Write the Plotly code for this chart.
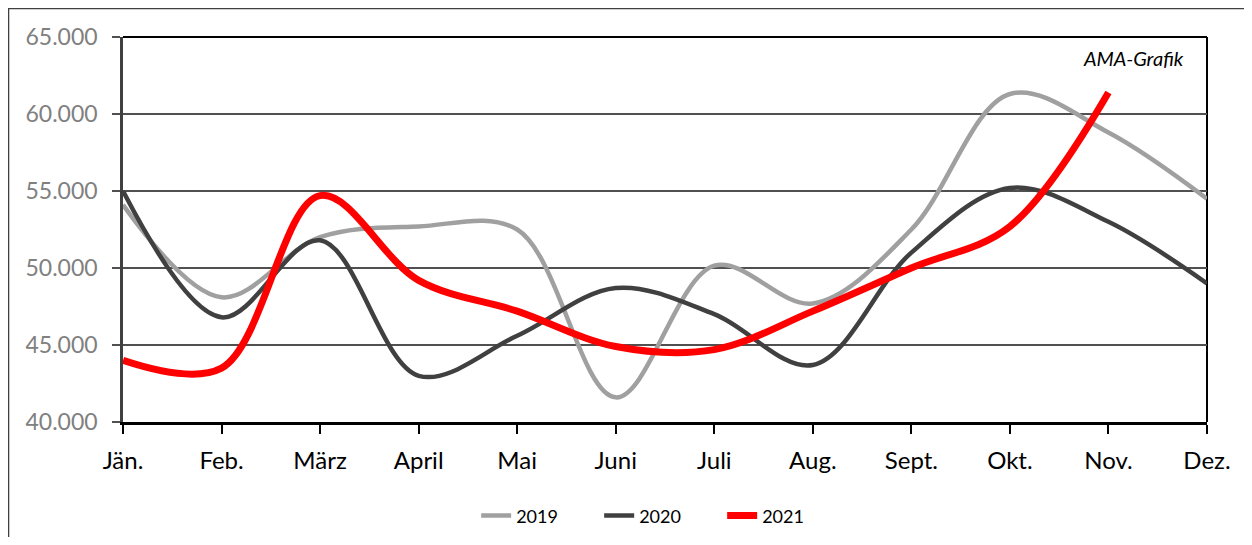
import plotly.graph_objects as go

months = ["Jän.", "Feb.", "März", "April", "Mai", "Juni", "Juli", "Aug.", "Sept.", "Okt.", "Nov.", "Dez."]
y2019 = [54100, 48100, 52000, 52700, 52500, 41600, 50150, 47700, 52500, 61300, 58800, 54500]
y2020 = [55000, 46800, 51800, 43000, 45600, 48700, 47000, 43700, 51000, 55200, 53000, 49000]
y2021 = [44000, 43500, 54700, 49200, 47200, 44900, 44700, 47200, 50000, 52700, 61400]
yticks = [40000, 45000, 50000, 55000, 60000, 65000]

xs = list(range(len(months)))

fig = go.Figure()
fig.add_trace(go.Scatter(x=xs[:len(y2019)], y=y2019, name="2019", mode="lines",
                         line=dict(color="#a0a0a0", width=4.5, shape="spline", smoothing=1.0)))
fig.add_trace(go.Scatter(x=xs[:len(y2020)], y=y2020, name="2020", mode="lines",
                         line=dict(color="#404040", width=4.5, shape="spline", smoothing=1.0)))
fig.add_trace(go.Scatter(x=xs[:len(y2021)], y=y2021, name="2021", mode="lines",
                         line=dict(color="#ff0000", width=7, shape="spline", smoothing=1.0)))

fig.update_layout(
    width=1236, height=529,
    margin=dict(l=115, r=37, t=29, b=115),
    paper_bgcolor="white", plot_bgcolor="white",
    separators=",.",
    font=dict(family="Lato, Open Sans, sans-serif", color="black"),
    showlegend=True,
    legend=dict(orientation="h", x=0.496, xanchor="center", xref="paper",
                y=0.04, yanchor="middle", yref="container",
                font=dict(size=18, color="black"), entrywidth=78, entrywidthmode="pixels",
                tracegroupgap=0),
    xaxis=dict(range=[0, 11], tickvals=xs, ticktext=months, showgrid=False,
               showline=True, linecolor="black", linewidth=3,
               ticks="outside", ticklen=9, tickwidth=2, tickcolor="black",
               tickfont=dict(size=24, color="black"), ticklabelstandoff=6,
               zeroline=False, fixedrange=True, automargin=False),
    yaxis=dict(range=[40000, 65000], tickvals=yticks, tickformat=",.0f",
               showgrid=True, gridcolor="#505050", gridwidth=1.6,
               showline=True, linecolor="#404040", linewidth=2.5,
               ticks="outside", ticklen=8, tickwidth=1.6, tickcolor="#505050",
               tickfont=dict(size=23, color="#808080"), ticklabelstandoff=10,
               zeroline=False, fixedrange=True, automargin=False),
    shapes=[
        dict(type="line", xref="paper", yref="paper", x0=0, x1=1, y0=1, y1=1,
             line=dict(color="black", width=2), layer="between"),
        dict(type="line", xref="paper", yref="paper", x0=1, x1=1, y0=0, y1=1,
             line=dict(color="black", width=2), layer="between"),
        dict(type="rect", xref="paper", yref="paper", x0=-0.1056, x1=1.06, y0=-0.4, y1=1.074,
             line=dict(color="#404040", width=1.5), layer="below"),
    ],
    annotations=[
        dict(text="<i>AMA-Grafik</i>", xref="paper", yref="paper", x=0.981, y=0.945,
             xanchor="right", yanchor="middle", showarrow=False,
             font=dict(size=20, color="black")),
    ],
)

fig.write_html("out.html")
